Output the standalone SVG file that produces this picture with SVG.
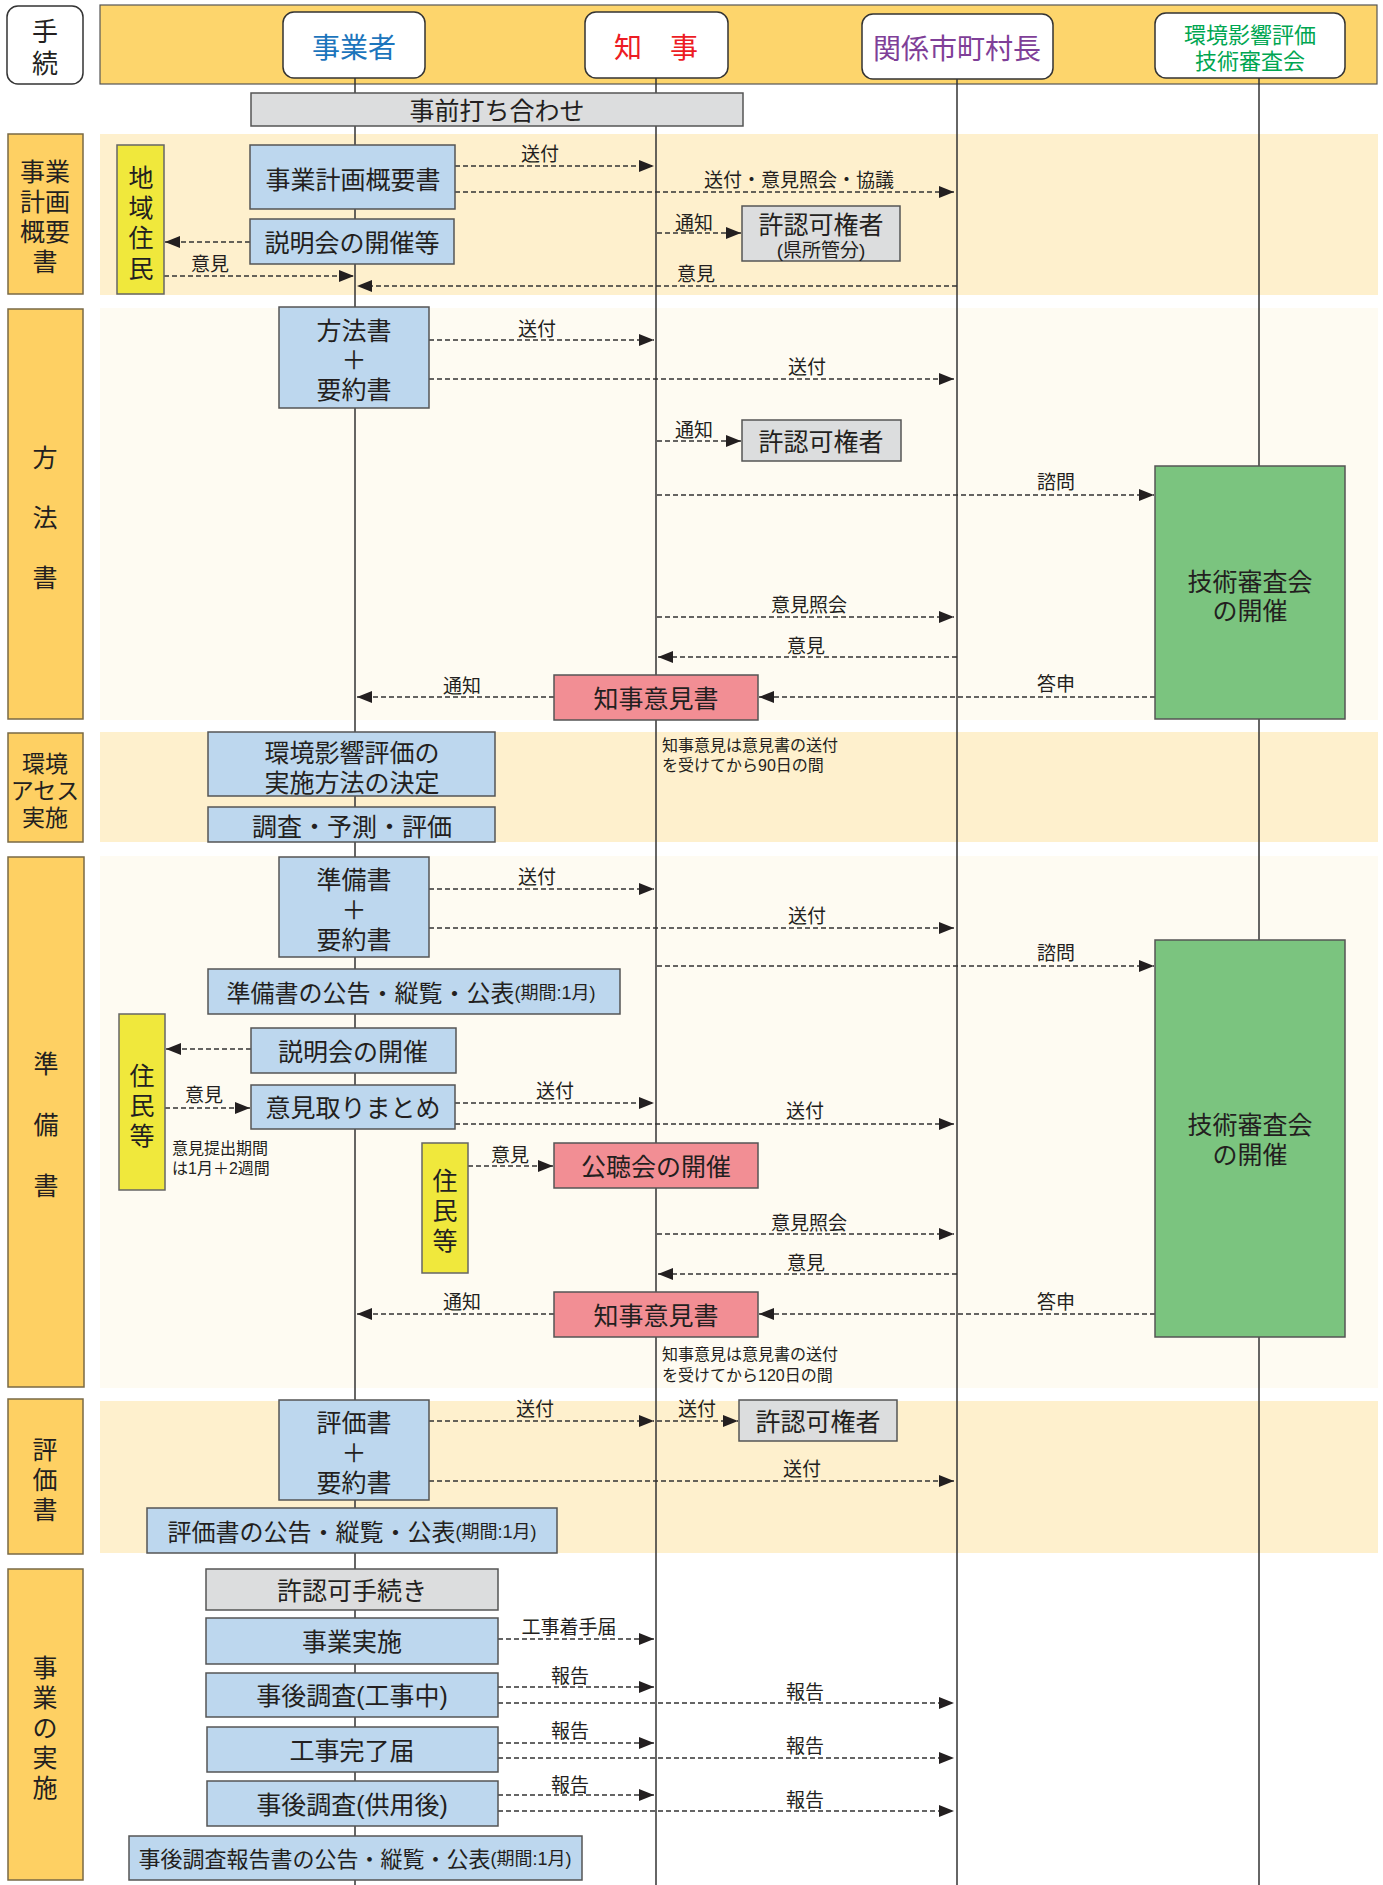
<svg xmlns="http://www.w3.org/2000/svg" width="1383" height="1885" viewBox="0 0 1383 1885">
<defs>
<marker id="ah" markerUnits="userSpaceOnUse" markerWidth="16" markerHeight="12" refX="15" refY="6" orient="auto"><path d="M0,0 L15,6 L0,12 z" fill="#231f20"/></marker>
<style>
text{font-family:"Liberation Sans","Noto Sans CJK JP",sans-serif;fill:#231f20;text-anchor:middle;dominant-baseline:central}
.lf{stroke:#333;stroke-width:1.5;fill:none}
.ar{stroke:#333;stroke-width:1.5;stroke-dasharray:5 3;fill:none;marker-end:url(#ah)}
.bandA{fill:#fef0cd}
.bandB{fill:#fefbf2}
.sec{fill:#fed063;stroke:#7a6a45;stroke-width:1.5}
.hd{fill:#fff;stroke:#333;stroke-width:1.5}
.blue{fill:#bdd7ee;stroke:#555;stroke-width:1.5}
.gray{fill:#dcddde;stroke:#555;stroke-width:1.5}
.pink{fill:#f28e94;stroke:#555;stroke-width:1.5}
.green{fill:#7bc47f;stroke:#555;stroke-width:1.5}
.yel{fill:#f0e83c;stroke:#666;stroke-width:1.5}
.lb{font-size:19px}
.bt{font-size:25px}
.st{font-size:25px}
.nt{font-size:16px;text-anchor:start}
.pr{font-size:18px}
</style>
</defs>

<!-- background bands -->
<g id="bands">
<rect class="bandA" x="100" y="134" width="1278" height="161"/>
<rect class="bandB" x="100" y="308" width="1278" height="412"/>
<rect class="bandA" x="100" y="732" width="1278" height="110"/>
<rect class="bandB" x="100" y="856" width="1278" height="532"/>
<rect class="bandA" x="100" y="1401" width="1278" height="152"/>
</g>

<!-- header -->
<g id="header">
<rect x="100" y="5" width="1277" height="79" fill="#fdd56c" stroke="#555" stroke-width="1.2"/>
</g>
<g id="tetsuzuki">
<rect class="hd" x="7" y="6" width="76" height="78" rx="11"/>
<text style="font-size:26px"><tspan x="45" y="32">手</tspan><tspan x="45" y="64">続</tspan></text>
</g>

<!-- lifelines -->
<g id="lifelines">
<line class="lf" x1="355" y1="78" x2="355" y2="1885"/>
<line class="lf" x1="656" y1="78" x2="656" y2="1885"/>
<line class="lf" x1="957" y1="79" x2="957" y2="1885"/>
<line class="lf" x1="1259" y1="78" x2="1259" y2="1885"/>
</g>

<g id="actor-jigyosha">
<rect class="hd" x="283" y="12" width="142" height="66" rx="11"/>
<text x="354" y="48" style="font-size:28px;fill:#1c75bc">事業者</text>
</g>
<g id="actor-chiji">
<rect class="hd" x="585" y="12" width="143" height="66" rx="11"/>
<text x="656" y="48" style="font-size:28px;fill:#ed1c24">知　事</text>
</g>
<g id="actor-shichoson">
<rect class="hd" x="862" y="14" width="191" height="65" rx="11"/>
<text x="957" y="49" style="font-size:28px;fill:#7f3f98">関係市町村長</text>
</g>
<g id="actor-shinsakai">
<rect class="hd" x="1155" y="13" width="190" height="65" rx="11"/>
<text style="font-size:22px;fill:#00a651"><tspan x="1250" y="35">環境影響評価</tspan><tspan x="1250" y="61">技術審査会</tspan></text>
</g>

<!-- section labels -->
<g id="sec1">
<rect class="sec" x="8" y="134" width="75" height="160"/>
<text class="st"><tspan x="45" y="172">事業</tspan><tspan x="45" y="202">計画</tspan><tspan x="45" y="232">概要</tspan><tspan x="45" y="262">書</tspan></text>
</g>
<g id="sec2">
<rect class="sec" x="8" y="309" width="75" height="410"/>
<text class="st"><tspan x="45" y="458">方</tspan><tspan x="45" y="518">法</tspan><tspan x="45" y="578">書</tspan></text>
</g>
<g id="sec3">
<rect class="sec" x="8" y="733" width="75" height="109"/>
<text style="font-size:23px"><tspan x="45" y="764">環境</tspan><tspan x="45" y="791">アセス</tspan><tspan x="45" y="818">実施</tspan></text>
</g>
<g id="sec4">
<rect class="sec" x="8" y="857" width="76" height="530"/>
<text class="st"><tspan x="46" y="1064">準</tspan><tspan x="46" y="1125">備</tspan><tspan x="46" y="1186">書</tspan></text>
</g>
<g id="sec5">
<rect class="sec" x="8" y="1399" width="75" height="155"/>
<text class="st"><tspan x="45" y="1450">評</tspan><tspan x="45" y="1480">価</tspan><tspan x="45" y="1510">書</tspan></text>
</g>
<g id="sec6">
<rect class="sec" x="8" y="1569" width="75" height="311"/>
<text class="st"><tspan x="45" y="1668">事</tspan><tspan x="45" y="1698">業</tspan><tspan x="45" y="1728">の</tspan><tspan x="45" y="1758">実</tspan><tspan x="45" y="1788">施</tspan></text>
</g>

<!-- connectors -->
<g id="connectors">
<line class="ar" x1="455" y1="166" x2="654" y2="166"/>
<line class="ar" x1="455" y1="192" x2="954" y2="192"/>
<line class="ar" x1="250" y1="242" x2="165" y2="242"/>
<line class="ar" x1="164" y1="276" x2="354" y2="276"/>
<line class="ar" x1="657" y1="233" x2="741" y2="233"/>
<line class="ar" x1="957" y1="286" x2="357" y2="286"/>
<line class="ar" x1="429" y1="340" x2="654" y2="340"/>
<line class="ar" x1="429" y1="379" x2="954" y2="379"/>
<line class="ar" x1="657" y1="441" x2="741" y2="441"/>
<line class="ar" x1="657" y1="495" x2="1154" y2="495"/>
<line class="ar" x1="657" y1="617" x2="954" y2="617"/>
<line class="ar" x1="957" y1="657" x2="658" y2="657"/>
<line class="ar" x1="1155" y1="697" x2="759" y2="697"/>
<line class="ar" x1="554" y1="697" x2="357" y2="697"/>
<line class="ar" x1="429" y1="889" x2="654" y2="889"/>
<line class="ar" x1="429" y1="928" x2="954" y2="928"/>
<line class="ar" x1="657" y1="966" x2="1154" y2="966"/>
<line class="ar" x1="251" y1="1049" x2="166" y2="1049"/>
<line class="ar" x1="165" y1="1108" x2="250" y2="1108"/>
<line class="ar" x1="455" y1="1103" x2="654" y2="1103"/>
<line class="ar" x1="455" y1="1124" x2="954" y2="1124"/>
<line class="ar" x1="468" y1="1166" x2="553" y2="1166"/>
<line class="ar" x1="657" y1="1234" x2="954" y2="1234"/>
<line class="ar" x1="957" y1="1274" x2="658" y2="1274"/>
<line class="ar" x1="1155" y1="1314" x2="759" y2="1314"/>
<line class="ar" x1="554" y1="1314" x2="357" y2="1314"/>
<line class="ar" x1="429" y1="1421" x2="654" y2="1421"/>
<line class="ar" x1="657" y1="1421" x2="738" y2="1421"/>
<line class="ar" x1="429" y1="1481" x2="954" y2="1481"/>
<line class="ar" x1="498" y1="1639" x2="654" y2="1639"/>
<line class="ar" x1="498" y1="1687" x2="654" y2="1687"/>
<line class="ar" x1="498" y1="1703" x2="954" y2="1703"/>
<line class="ar" x1="498" y1="1743" x2="654" y2="1743"/>
<line class="ar" x1="498" y1="1758" x2="954" y2="1758"/>
<line class="ar" x1="498" y1="1795" x2="654" y2="1795"/>
<line class="ar" x1="498" y1="1811" x2="954" y2="1811"/>
</g>

<!-- connector labels -->
<g id="connector-labels">
<text class="lb" x="540" y="154">送付</text>
<text class="lb" x="799" y="180">送付・意見照会・協議</text>
<text class="lb" x="210" y="264">意見</text>
<text class="lb" x="694" y="223">通知</text>
<text class="lb" x="696" y="274">意見</text>
<text class="lb" x="537" y="329">送付</text>
<text class="lb" x="807" y="367">送付</text>
<text class="lb" x="694" y="430">通知</text>
<text class="lb" x="1056" y="482">諮問</text>
<text class="lb" x="809" y="605">意見照会</text>
<text class="lb" x="806" y="646">意見</text>
<text class="lb" x="1056" y="684">答申</text>
<text class="lb" x="462" y="686">通知</text>
<text class="lb" x="537" y="877">送付</text>
<text class="lb" x="807" y="916">送付</text>
<text class="lb" x="1056" y="953">諮問</text>
<text class="lb" x="204" y="1095">意見</text>
<text class="lb" x="555" y="1091">送付</text>
<text class="lb" x="805" y="1111">送付</text>
<text class="lb" x="510" y="1155">意見</text>
<text class="lb" x="809" y="1223">意見照会</text>
<text class="lb" x="806" y="1263">意見</text>
<text class="lb" x="1056" y="1302">答申</text>
<text class="lb" x="462" y="1302">通知</text>
<text class="lb" x="535" y="1409">送付</text>
<text class="lb" x="697" y="1409">送付</text>
<text class="lb" x="802" y="1469">送付</text>
<text class="lb" x="569" y="1627">工事着手届</text>
<text class="lb" x="570" y="1676">報告</text>
<text class="lb" x="805" y="1692">報告</text>
<text class="lb" x="570" y="1731">報告</text>
<text class="lb" x="805" y="1746">報告</text>
<text class="lb" x="570" y="1785">報告</text>
<text class="lb" x="805" y="1800">報告</text>
</g>

<!-- notes -->
<g id="notes">
<text class="nt"><tspan x="662" y="745">知事意見は意見書の送付</tspan><tspan x="662" y="765">を受けてから90日の間</tspan></text>
<text class="nt"><tspan x="662" y="1354">知事意見は意見書の送付</tspan><tspan x="662" y="1375">を受けてから120日の間</tspan></text>
<text class="nt"><tspan x="172" y="1148">意見提出期間</tspan><tspan x="172" y="1168">は1月＋2週間</tspan></text>
</g>

<!-- nodes -->
<g id="n-jizen">
<rect class="gray" x="251" y="93" width="492" height="33"/>
<text class="bt" x="497" y="111">事前打ち合わせ</text>
</g>
<g id="n-chiikijumin">
<rect class="yel" x="117" y="145" width="47" height="149"/>
<text class="bt"><tspan x="141" y="178">地</tspan><tspan x="141" y="208">域</tspan><tspan x="141" y="238">住</tspan><tspan x="141" y="269">民</tspan></text>
</g>
<g id="n-gaiyosho">
<rect class="blue" x="250" y="145" width="205" height="64"/>
<text class="bt" x="353" y="180">事業計画概要書</text>
</g>
<g id="n-setsumei1">
<rect class="blue" x="250" y="219" width="204" height="45"/>
<text class="bt" x="352" y="243">説明会の開催等</text>
</g>
<g id="n-kyoninka1">
<rect class="gray" x="742" y="206" width="158" height="55"/>
<text class="bt"><tspan x="821" y="225">許認可権者</tspan><tspan x="821" y="250" style="font-size:19px">(県所管分)</tspan></text>
</g>

<g id="n-hohosho">
<rect class="blue" x="279" y="307" width="150" height="101"/>
<text class="bt"><tspan x="354" y="331">方法書</tspan><tspan x="354" y="360">＋</tspan><tspan x="354" y="390">要約書</tspan></text>
</g>
<g id="n-kyoninka2">
<rect class="gray" x="742" y="420" width="159" height="41"/>
<text class="bt" x="821" y="442">許認可権者</text>
</g>
<g id="n-shinsa1">
<rect class="green" x="1155" y="466" width="190" height="253"/>
<text class="bt"><tspan x="1250" y="582">技術審査会</tspan><tspan x="1250" y="611">の開催</tspan></text>
</g>
<g id="n-chijiiken1">
<rect class="pink" x="554" y="675" width="204" height="45"/>
<text class="bt" x="656" y="699">知事意見書</text>
</g>

<g id="n-kettei">
<rect class="blue" x="208" y="732" width="287" height="64"/>
<text class="bt"><tspan x="352" y="753">環境影響評価の</tspan><tspan x="352" y="783">実施方法の決定</tspan></text>
</g>
<g id="n-chosa">
<rect class="blue" x="208" y="807" width="287" height="35"/>
<text class="bt" x="352" y="827">調査・予測・評価</text>
</g>

<g id="n-junbisho">
<rect class="blue" x="279" y="857" width="150" height="100"/>
<text class="bt"><tspan x="354" y="880">準備書</tspan><tspan x="354" y="910">＋</tspan><tspan x="354" y="940">要約書</tspan></text>
</g>
<g id="n-shinsa2">
<rect class="green" x="1155" y="940" width="190" height="397"/>
<text class="bt"><tspan x="1250" y="1125">技術審査会</tspan><tspan x="1250" y="1155">の開催</tspan></text>
</g>
<g id="n-junbikoukoku">
<rect class="blue" x="208" y="969" width="412" height="45"/>
<text x="411" y="993" style="font-size:24px">準備書の公告・縦覧・公表<tspan class="pr">(期間:1月)</tspan></text>
</g>
<g id="n-jumin1">
<rect class="yel" x="119" y="1014" width="46" height="176"/>
<text class="bt"><tspan x="142" y="1076">住</tspan><tspan x="142" y="1106">民</tspan><tspan x="142" y="1136">等</tspan></text>
</g>
<g id="n-setsumei2">
<rect class="blue" x="251" y="1028" width="205" height="45"/>
<text class="bt" x="353" y="1052">説明会の開催</text>
</g>
<g id="n-matome">
<rect class="blue" x="251" y="1085" width="204" height="44"/>
<text class="bt" x="353" y="1108">意見取りまとめ</text>
</g>
<g id="n-jumin2">
<rect class="yel" x="422" y="1143" width="46" height="130"/>
<text class="bt"><tspan x="445" y="1181">住</tspan><tspan x="445" y="1211">民</tspan><tspan x="445" y="1241">等</tspan></text>
</g>
<g id="n-kochokai">
<rect class="pink" x="554" y="1143" width="204" height="45"/>
<text class="bt" x="656" y="1167">公聴会の開催</text>
</g>
<g id="n-chijiiken2">
<rect class="pink" x="554" y="1292" width="204" height="45"/>
<text class="bt" x="656" y="1316">知事意見書</text>
</g>

<g id="n-hyokasho">
<rect class="blue" x="279" y="1400" width="150" height="100"/>
<text class="bt"><tspan x="354" y="1423">評価書</tspan><tspan x="354" y="1453">＋</tspan><tspan x="354" y="1483">要約書</tspan></text>
</g>
<g id="n-kyoninka3">
<rect class="gray" x="739" y="1400" width="158" height="41"/>
<text class="bt" x="818" y="1422">許認可権者</text>
</g>
<g id="n-hyokakoukoku">
<rect class="blue" x="147" y="1508" width="410" height="45"/>
<text x="352" y="1532" style="font-size:24px">評価書の公告・縦覧・公表<tspan class="pr">(期間:1月)</tspan></text>
</g>

<g id="n-kyoninkatetsuzuki">
<rect class="gray" x="206" y="1569" width="292" height="41"/>
<text class="bt" x="352" y="1591">許認可手続き</text>
</g>
<g id="n-jigyojisshi">
<rect class="blue" x="206" y="1618" width="292" height="46"/>
<text class="bt" x="352" y="1642">事業実施</text>
</g>
<g id="n-jigo1">
<rect class="blue" x="206" y="1673" width="292" height="44"/>
<text class="bt" x="352" y="1696">事後調査(工事中)</text>
</g>
<g id="n-kanryo">
<rect class="blue" x="207" y="1727" width="291" height="45"/>
<text class="bt" x="352" y="1751">工事完了届</text>
</g>
<g id="n-jigo2">
<rect class="blue" x="207" y="1781" width="291" height="45"/>
<text class="bt" x="352" y="1805">事後調査(供用後)</text>
</g>
<g id="n-jigohokoku">
<rect class="blue" x="129" y="1836" width="453" height="44"/>
<text x="355" y="1859" style="font-size:22px">事後調査報告書の公告・縦覧・公表<tspan class="pr">(期間:1月)</tspan></text>
</g>
</svg>
